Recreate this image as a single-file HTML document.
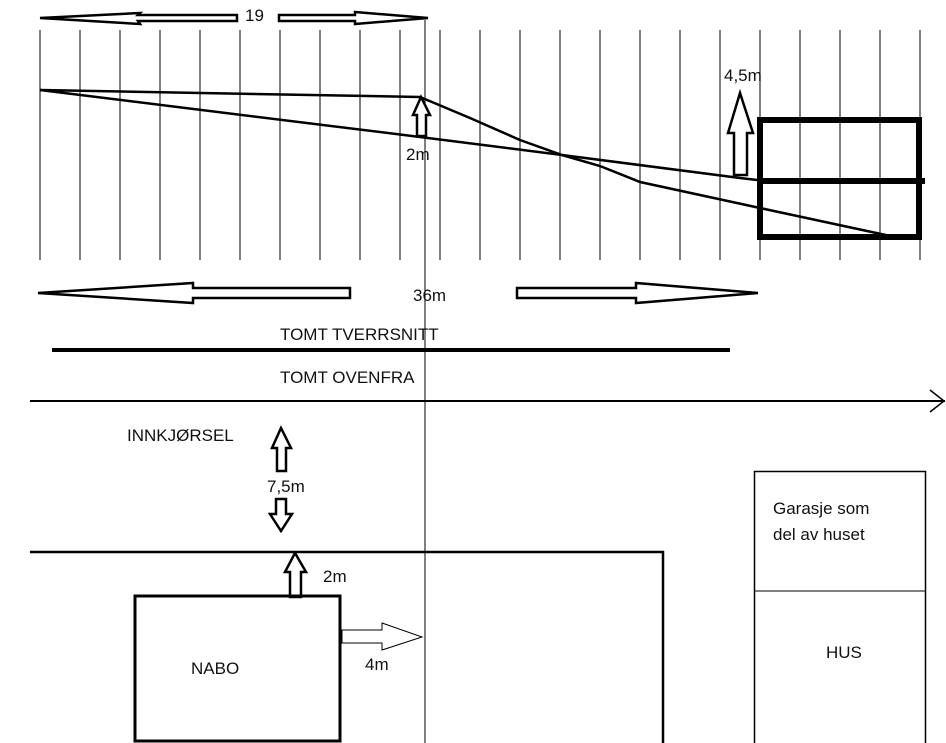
<!DOCTYPE html>
<html><head><style>body{margin:0;background:#fff}svg{display:block}text{font-family:"Liberation Sans",sans-serif;font-size:17px;fill:#111}</style></head>
<body>
<svg width="946" height="743" viewBox="0 0 946 743" xmlns="http://www.w3.org/2000/svg">
<g stroke="#000" stroke-width="1">
<line x1="40" y1="30" x2="40" y2="260"/><line x1="80" y1="30" x2="80" y2="260"/><line x1="120" y1="30" x2="120" y2="260"/><line x1="160" y1="30" x2="160" y2="260"/><line x1="200" y1="30" x2="200" y2="260"/><line x1="240" y1="30" x2="240" y2="260"/><line x1="280" y1="30" x2="280" y2="260"/><line x1="320" y1="30" x2="320" y2="260"/><line x1="360" y1="30" x2="360" y2="260"/><line x1="400" y1="30" x2="400" y2="260"/><line x1="440" y1="30" x2="440" y2="260"/><line x1="480" y1="30" x2="480" y2="260"/><line x1="520" y1="30" x2="520" y2="260"/><line x1="560" y1="30" x2="560" y2="260"/><line x1="600" y1="30" x2="600" y2="260"/><line x1="640" y1="30" x2="640" y2="260"/><line x1="680" y1="30" x2="680" y2="260"/><line x1="720" y1="30" x2="720" y2="260"/><line x1="760" y1="30" x2="760" y2="260"/><line x1="800" y1="30" x2="800" y2="260"/><line x1="840" y1="30" x2="840" y2="260"/><line x1="880" y1="30" x2="880" y2="260"/><line x1="920" y1="30" x2="920" y2="260"/>
<line x1="425" y1="20" x2="425" y2="743"/>
</g>
<g fill="#fff" stroke="#000" stroke-width="2.5">
<polygon points="40,18 140,13 138,15 237,15 237,21 138,21 140,24"/>
<polygon points="428,18 355,12 355,15 279,15 279,21 355,21 355,24"/>
<polygon points="38,293 193,283 193,288 350,288 350,298 193,298 193,303"/>
<polygon points="758,293 636,283 636,288 517,288 517,298 636,298 636,303"/>
</g>
<g fill="none" stroke="#000" stroke-width="2.5">
<polyline points="40,90 420,97 470,118 520,140 562,155 600,166 640,182 760,208 895,237"/>
<polyline points="40,90 420,137 562,155 740,178 757,180"/>
</g>
<g fill="#fff" stroke="#000" stroke-width="2.5">
<polygon points="421,97 413,115 417,115 417,136 426,136 426,115 430,115"/>
<polygon points="740,93 728,133 734,133 734,175 747,175 747,133 753,133"/>
</g>
<rect x="760" y="120" width="159" height="117" fill="none" stroke="#000" stroke-width="6"/>
<line x1="757" y1="181" x2="925" y2="181" stroke="#000" stroke-width="6"/>
<line x1="52" y1="350" x2="730" y2="350" stroke="#000" stroke-width="4"/>
<line x1="30" y1="401" x2="945" y2="401" stroke="#000" stroke-width="2"/>
<polyline points="930,390 944,401 930,412" fill="none" stroke="#000" stroke-width="1.5"/>
<g fill="#fff" stroke="#000" stroke-width="2.5">
<polygon points="281,428 272,448 277,448 277,471 286,471 286,448 291,448"/>
<polygon points="281,531 270,514 276,514 276,499 286,499 286,514 292,514"/>
<polygon points="295,553 285,572 290,572 290,597 301,597 301,572 306,572"/>
</g>
<polyline points="30,552 663,552 663,743" fill="none" stroke="#000" stroke-width="2.5"/>
<rect x="135" y="596" width="205" height="145" fill="none" stroke="#000" stroke-width="3"/>
<polygon points="342,630 382,630 382,623 422,637 382,650 382,643 342,643" fill="#fff" stroke="#000" stroke-width="1"/>
<rect x="754.5" y="471.5" width="171" height="275" fill="none" stroke="#000" stroke-width="1.5"/>
<line x1="754" y1="591" x2="925" y2="591" stroke="#000" stroke-width="1"/>
<text x="245" y="21">19</text>
<text x="724" y="81">4,5m</text>
<text x="406" y="160">2m</text>
<text x="413" y="301">36m</text>
<text x="280" y="340">TOMT TVERRSNITT</text>
<text x="280" y="383">TOMT OVENFRA</text>
<text x="127" y="441">INNKJØRSEL</text>
<text x="267" y="492">7,5m</text>
<text x="323" y="582">2m</text>
<text x="365" y="670">4m</text>
<text x="191" y="674">NABO</text>
<text x="773" y="514">Garasje som</text>
<text x="773" y="540">del av huset</text>
<text x="826" y="658">HUS</text>
</svg>
</body></html>
